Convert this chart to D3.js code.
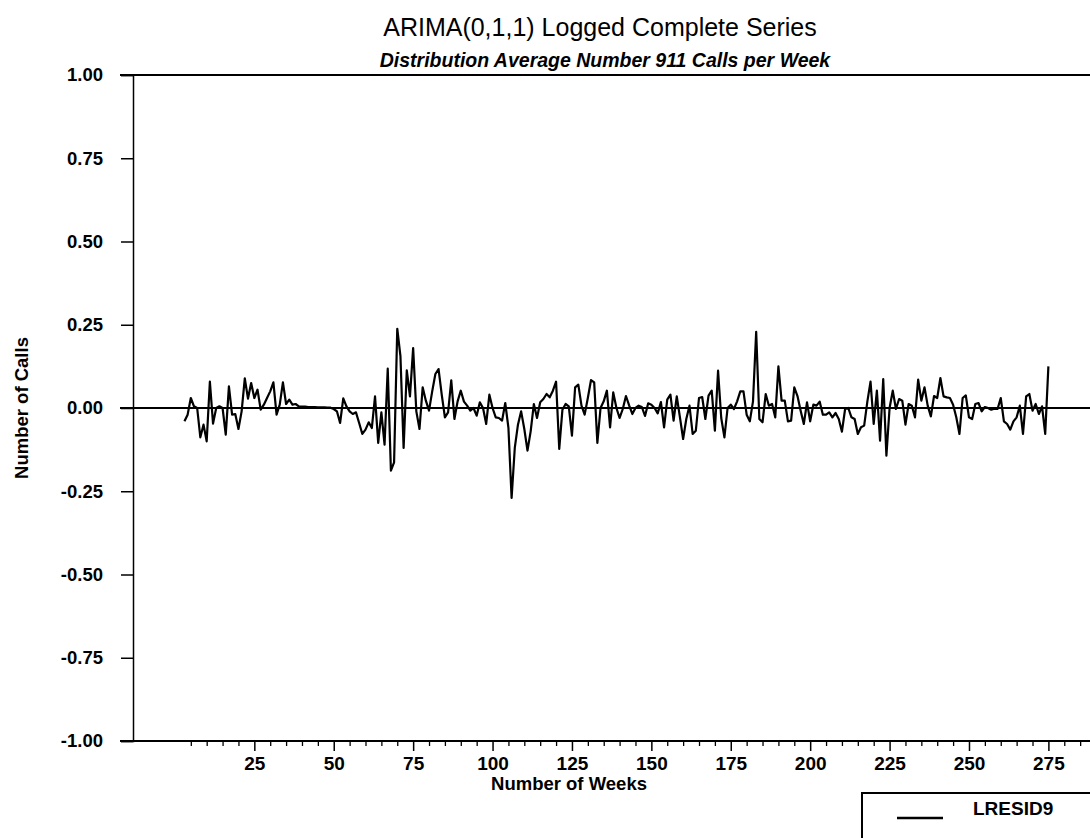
<!DOCTYPE html>
<html>
<head>
<meta charset="utf-8">
<script src="https://cdn.jsdelivr.net/npm/d3@7"></script>
<style>
html,body{margin:0;padding:0;background:#fff;}
svg{display:block;font-family:"Liberation Sans",Arial,sans-serif;}
</style>
</head>
<body>
<svg id="chart" width="1090" height="838"></svg>
<script>
// ---- data ----
const titleText = "ARIMA(0,1,1) Logged Complete Series";
const subtitleText = "Distribution Average Number 911 Calls per Week";
const xLabel = "Number of Weeks";
const yLabel = "Number of Calls";
const seriesName = "LRESID9";
const startWeek = 3;
// LRESID9 value per week, weeks 3..275
const lresid9 = [
 -0.04,-0.02,0.03,0.005,0.0,-0.088,-0.05,-0.10,0.079,-0.047,            // 3-12
 0.0,0.005,0.0,-0.08,0.065,-0.02,-0.018,-0.063,-0.01,0.089,              // 13-22
 0.028,0.075,0.03,0.055,-0.005,0.01,0.03,0.05,0.077,-0.02,               // 23-32
 0.01,0.077,0.012,0.025,0.01,0.012,0.005,0.004,0.004,0.003,              // 33-42
 0.003,0.003,0.002,0.002,0.002,0.001,0.001,-0.003,-0.01,-0.045,          // 43-52
 0.029,0.005,-0.01,-0.018,-0.013,-0.045,-0.078,-0.065,-0.043,-0.06,      // 53-62
 0.035,-0.105,-0.013,-0.11,0.118,-0.188,-0.163,0.238,0.156,-0.12,        // 63-72
 0.113,0.035,0.18,-0.01,-0.063,0.062,0.022,-0.008,0.05,0.102,            // 73-82
 0.117,0.04,-0.028,-0.013,0.083,-0.033,0.02,0.052,0.019,0.007,           // 83-92
 -0.008,0.0,-0.023,0.017,0.0,-0.048,0.04,0.0,-0.028,-0.03,               // 93-102
 -0.038,0.015,-0.06,-0.27,-0.12,-0.05,-0.01,-0.063,-0.128,-0.07,         // 103-112
 0.012,-0.03,0.017,0.027,0.042,0.032,0.052,0.079,-0.123,-0.005,          // 113-122
 0.012,0.005,-0.083,0.062,0.07,0.007,-0.02,0.03,0.084,0.077,             // 123-132
 -0.105,0.0,0.02,0.052,-0.058,0.047,0.0,-0.03,-0.003,0.036,              // 133-142
 0.008,-0.018,0.0,0.007,0.003,-0.024,0.014,0.01,0.0,-0.016,              // 143-152
 0.018,-0.058,0.025,0.04,-0.038,0.035,-0.028,-0.093,-0.033,0.007,        // 153-162
 -0.078,-0.068,0.03,0.033,-0.033,0.037,0.052,-0.068,0.112,-0.03,         // 163-172
 -0.088,0.0,0.01,-0.003,0.02,0.05,0.05,-0.02,-0.04,0.02,                 // 173-182
 0.229,-0.033,-0.043,0.042,0.007,0.012,-0.028,0.125,0.022,0.022,         // 183-192
 -0.04,-0.038,0.062,0.036,-0.008,-0.048,0.017,-0.04,0.01,0.007,          // 193-202
 0.019,-0.02,-0.02,-0.013,-0.028,-0.015,-0.033,-0.071,-0.003,0.0,        // 203-212
 -0.028,-0.033,-0.078,-0.058,-0.053,0.019,0.079,-0.048,0.052,-0.098,     // 213-222
 0.087,-0.143,0.0,0.052,-0.003,0.027,0.022,-0.05,0.012,0.007,            // 223-232
 -0.028,0.085,0.022,0.062,0.007,-0.025,0.036,0.03,0.09,0.035,            // 233-242
 0.032,0.03,0.01,-0.028,-0.078,0.03,0.038,-0.028,-0.033,0.012,           // 243-252
 0.015,-0.01,0.003,0.0,-0.005,-0.002,-0.003,0.03,-0.04,-0.048,           // 253-262
 -0.065,-0.04,-0.028,0.007,-0.078,0.035,0.042,-0.008,0.012,-0.018,       // 263-272
 0.005,-0.078,0.125                                                      // 273-275
];
const yTicks = [1.00,0.75,0.50,0.25,0.00,-0.25,-0.50,-0.75,-1.00];
const xMajorTicks = [25,50,75,100,125,150,175,200,225,250,275];

// ---- chart ----
const svg = d3.select("#chart");
const pLeft = 133, pRight = 1090, pTop = 75, pBottom = 741;
const FONT = "'Liberation Sans',Arial,sans-serif";

const x = d3.scaleLinear().domain([-13.2, 288.1]).range([pLeft, pRight]);
const y = d3.scaleLinear().domain([-1, 1]).range([pBottom, pTop]);

const data = lresid9.map((v,i)=>({w:startWeek+i, v}));

// title
svg.append("text").attr("x", 600).attr("y", 36)
  .attr("text-anchor","middle").attr("font-size", 25)
  .text(titleText);
svg.append("text").attr("x", 605).attr("y", 67)
  .attr("text-anchor","middle").attr("font-size", 19.5)
  .attr("font-style","italic").attr("font-weight","bold")
  .text(subtitleText);

// frame top line
svg.append("line").attr("x1", pLeft-13).attr("x2", pRight)
  .attr("y1", y(1)).attr("y2", y(1))
  .attr("stroke","#000").attr("stroke-width",2);

// y axis
const yAxis = d3.axisLeft(y).tickValues(yTicks).tickSize(12).tickPadding(18)
  .tickFormat(d => d.toFixed(2));
const gy = svg.append("g").attr("transform",`translate(${pLeft},0)`).call(yAxis);
gy.select(".domain").attr("stroke-width",1.5);
gy.selectAll(".tick line").attr("stroke-width",1.5);
gy.selectAll(".tick text").attr("font-size",18.5).attr("font-weight","bold")
  .attr("font-family",FONT).attr("fill","#000");

// x axis line
svg.append("line").attr("x1", pLeft-13).attr("x2", pRight)
  .attr("y1", pBottom).attr("y2", pBottom)
  .attr("stroke","#000").attr("stroke-width",2);

// x minor ticks
const xMinor = d3.range(5, 290, 5).filter(d=>d%25!==0);
const gxm = svg.append("g").attr("transform",`translate(0,${pBottom})`)
  .call(d3.axisBottom(x).tickValues(xMinor).tickSize(5).tickFormat(""));
gxm.select(".domain").remove();
gxm.selectAll(".tick line").attr("stroke-width",1.3);

// x major ticks
const gx = svg.append("g").attr("transform",`translate(0,${pBottom})`)
  .call(d3.axisBottom(x).tickValues(xMajorTicks).tickSize(10).tickPadding(6));
gx.select(".domain").remove();
gx.selectAll(".tick line").attr("stroke-width",1.5);
gx.selectAll(".tick text").attr("font-size",19).attr("font-weight","bold")
  .attr("font-family",FONT).attr("fill","#000");

// axis labels
svg.append("text").attr("x", 569).attr("y", 790)
  .attr("text-anchor","middle").attr("font-size",18.5).attr("font-weight","bold")
  .text(xLabel);
svg.append("text").attr("transform","translate(28,408) rotate(-90)")
  .attr("text-anchor","middle").attr("font-size",18.5).attr("font-weight","bold")
  .text(yLabel);

// zero line
svg.append("line").attr("x1", pLeft-13).attr("x2", pRight)
  .attr("y1", y(0)).attr("y2", y(0))
  .attr("stroke","#000").attr("stroke-width",2);

// series line
const line = d3.line().x(d=>x(d.w)).y(d=>y(d.v));
svg.append("path").datum(data).attr("d", line)
  .attr("fill","none").attr("stroke","#000").attr("stroke-width",2.2)
  .attr("stroke-linejoin","round");

// legend
const lg = svg.append("g");
lg.append("rect").attr("x", 862).attr("y", 793).attr("width", 260).attr("height", 80)
  .attr("fill","none").attr("stroke","#000").attr("stroke-width",2);
lg.append("line").attr("x1", 897).attr("x2", 943).attr("y1", 818).attr("y2", 818)
  .attr("stroke","#000").attr("stroke-width",2.5);
lg.append("text").attr("x", 973).attr("y", 815).attr("font-size",19)
  .attr("font-weight","bold").text(seriesName);
</script>
</body>
</html>
